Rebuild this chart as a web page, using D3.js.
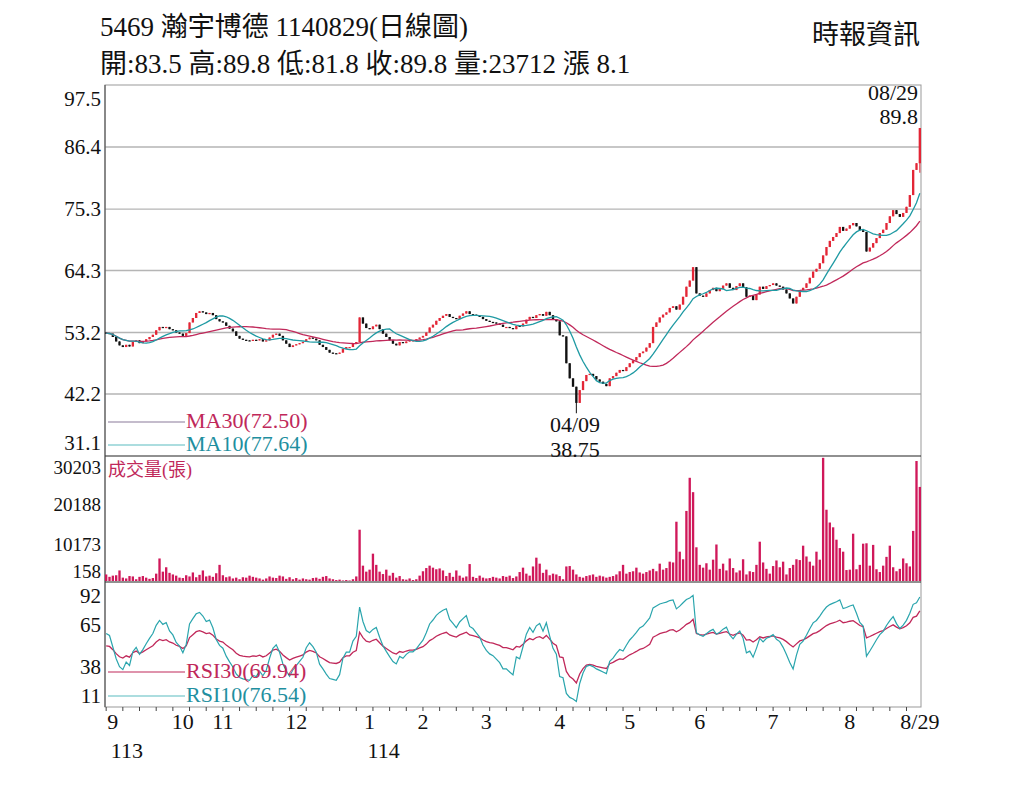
<!DOCTYPE html><html><head><meta charset="utf-8"><script src="https://cdn.jsdelivr.net/npm/d3@7"></script>
<style>body{margin:0;background:#fff}text{font-family:"Liberation Serif","Noto Sans CJK TC",serif}</style></head><body><svg id="c" width="1024" height="788"></svg>
<script>
const closes=[53.1,53.0,52.4,51.6,50.9,50.6,51.0,50.7,51.5,51.8,
51.3,51.6,52.0,52.4,52.8,53.6,54.2,54.0,54.2,53.8,
53.6,53.2,53.0,52.6,53.1,55.0,55.8,56.7,57.0,56.8,
56.5,56.7,56.3,55.6,55.2,55.0,54.4,53.9,53.4,52.6,
52.1,51.9,51.8,51.7,51.9,51.8,52.0,51.6,51.8,52.3,
52.8,53.0,52.6,51.8,51.2,50.6,50.9,51.1,51.3,51.5,
52.0,52.3,52.1,51.8,51.0,50.6,50.1,49.6,49.5,49.4,
49.6,50.3,50.6,50.6,51.2,51.5,55.9,54.8,54.0,53.8,
54.3,54.6,53.8,53.0,52.4,51.8,51.2,50.9,51.5,51.3,
51.6,51.8,51.8,52.0,52.3,52.6,53.2,54.1,54.6,55.3,
55.8,56.2,56.5,56.0,55.8,55.6,56.2,56.6,57.0,56.5,
56.4,56.2,56.0,55.6,55.3,55.1,55.0,54.8,54.6,54.2,
54.2,54.0,53.8,54.4,54.3,54.8,55.5,56.0,55.8,56.3,
56.5,56.2,56.9,56.3,55.6,55.2,52.7,52.5,47.7,45.0,
43.5,40.6,42.9,44.5,45.6,45.8,45.4,44.8,44.4,44.0,
43.6,45.0,45.4,46.0,46.5,46.3,47.0,47.7,48.2,48.8,
49.5,49.8,50.5,51.3,54.2,55.0,55.9,56.4,56.8,57.6,
57.9,57.3,58.2,59.6,61.4,62.5,64.9,60.2,59.8,59.6,
60.2,60.8,61.2,60.6,61.0,61.6,62.0,61.2,60.8,61.5,
62.0,61.3,59.6,59.8,59.0,60.0,61.4,61.0,61.5,61.7,
62.0,61.6,61.4,60.9,60.2,59.3,58.4,59.6,60.8,61.2,
62.0,63.0,64.1,64.6,65.6,67.0,68.5,69.6,70.3,71.0,
72.1,71.4,71.8,72.4,72.8,72.2,71.5,71.2,67.7,68.4,
69.2,70.1,71.0,71.6,72.8,74.0,75.1,74.4,73.9,74.6,
75.7,77.8,82.3,83.5,89.8];
const volumesK=[1.8,1.2,1.5,1.6,2.8,1.0,0.8,1.4,1.3,0.6,
1.2,1.4,1.0,0.7,0.9,2.0,5.8,2.5,3.6,2.2,
1.8,1.5,1.0,0.9,1.6,1.3,2.3,1.1,1.7,2.8,
1.3,1.5,1.2,2.1,4.2,1.6,1.1,1.3,0.8,1.0,
0.6,1.1,1.0,1.5,1.2,1.0,0.8,0.5,0.8,1.3,
1.0,0.9,1.5,1.3,0.7,1.1,0.6,0.9,0.5,0.8,
0.6,0.5,0.9,1.0,0.7,1.2,1.4,0.8,0.6,0.4,
0.5,0.3,0.4,0.3,0.6,1.3,13.0,4.0,2.5,3.0,
7.0,4.2,2.5,1.9,3.0,1.5,2.2,1.0,1.4,0.6,
0.5,0.8,0.4,0.6,1.5,2.6,3.4,4.0,3.5,3.1,
3.3,2.8,1.4,2.2,1.2,2.8,1.5,1.0,1.3,4.4,
1.2,0.9,1.5,1.0,0.8,0.9,1.2,1.0,0.8,1.4,
1.2,1.5,0.9,1.3,2.4,3.5,2.0,1.5,3.8,6.0,
4.5,2.2,3.0,1.6,2.0,1.8,1.4,0.6,3.8,3.9,
3.0,1.8,1.2,1.0,1.4,1.6,1.8,1.2,1.5,1.3,
1.0,1.2,1.4,1.8,2.6,4.2,2.0,2.4,2.6,3.5,
2.3,2.0,2.4,2.8,3.2,2.6,4.5,3.0,3.4,5.0,
4.8,15.0,7.5,5.6,17.7,26.0,22.4,8.6,4.2,3.5,
4.6,3.0,5.5,9.3,3.2,4.5,2.8,5.8,3.4,2.3,
2.8,5.6,1.8,2.6,2.4,4.2,10.0,4.8,3.2,2.0,
3.9,5.3,3.6,5.0,1.8,3.4,4.2,5.6,5.4,9.0,
6.3,5.0,4.0,7.5,5.5,31.0,18.0,14.8,13.6,10.5,
8.4,7.5,2.9,3.0,12.0,3.1,4.2,9.5,9.6,4.0,
9.2,3.1,2.4,4.0,6.2,9.0,3.6,2.6,3.2,5.8,
4.6,3.8,12.7,30.2,23.712];
const firstOpen=53.2;
const rsiStart10=62, rsiStart30=52;
const priceTicks=[97.5,86.4,75.3,64.3,53.2,42.2,31.1];
const volTicks=[30203,20188,10173,158];
const rsiTicks=[92,65,38,11];
const monthLabels=["9","10","11","12","1","2","3","4","5","6","7","8","8/29"];
const monthIdx=[2,23,35,57,79,95,114,136,157,178,200,223,244];
const yearLabels=["113","114"];
const yearIdx=[2,79];

const svg=d3.select("#c");
const L=105,R=921,N=closes.length;
const x=d3.scaleBand().domain(d3.range(N)).range([L,R]).paddingInner(0.3);
const xc=i=>x(i)+x.bandwidth()/2;
const yP=d3.scaleLinear().domain([31.1,97.5]).range([456,85]);
const yV=d3.scaleLinear().domain([158,31455]).range([581,456]);
const yR=d3.scaleLinear().domain([11,92]).range([697,596]);

const opens=closes.map((c,i)=>i?closes[i-1]:firstOpen);
const ma=n=>closes.map((c,i)=>d3.mean(closes.slice(Math.max(0,i-n+1),i+1)));
function rsi(n,start){const out=[];let ag=0.4*start/100,al=0.4*(1-start/100);
 for(let i=0;i<N;i++){const d=i?closes[i]-closes[i-1]:0;const g=Math.max(d,0),l=Math.max(-d,0);
  if(i){ag=(ag*(n-1)+g)/n;al=(al*(n-1)+l)/n;}out.push(100-100/(1+ag/al));}return out;}

svg.append("g").selectAll("line").data(priceTicks.slice(1,-1)).join("line").attr("x1",L).attr("x2",R).attr("y1",d=>yP(d)).attr("y2",d=>yP(d)).attr("stroke","#b5b5b5").attr("stroke-width",1.3);
svg.append("rect").attr("x",L).attr("y",85).attr("width",R-L).attr("height",622).attr("fill","none").attr("stroke","#999");
[456,582].forEach(y=>svg.append("line").attr("x1",L).attr("x2",R).attr("y1",y).attr("y2",y).attr("stroke","#222").attr("stroke-width",1.2));
svg.append("line").attr("x1",L).attr("x2",L).attr("y1",85).attr("y2",707).attr("stroke","#444");

const cg=svg.append("g");
closes.forEach((c,i)=>{const o=opens[i];const up=c>=o;const col=up?"#e32636":"#111";
 const hi=i===N-1?89.8:Math.max(o,c),lo=i===N-1?81.8:(i===141?38.75:Math.min(o,c));
 cg.append("line").attr("x1",xc(i)).attr("x2",xc(i)).attr("y1",yP(hi)).attr("y2",yP(lo)).attr("stroke",col);
 const y1=yP(Math.max(o,c)),y2=yP(Math.min(o,c));
 cg.append("rect").attr("x",x(i)).attr("width",x.bandwidth()).attr("y",y1).attr("height",Math.max(1.2,y2-y1)).attr("fill",col);});
const line=(ys,sc)=>d3.line().x((d,i)=>xc(i)).y(d=>sc(d))(ys);
svg.append("path").attr("d",line(ma(30),yP)).attr("fill","none").attr("stroke","#c0285a").attr("stroke-width",1.3);
svg.append("path").attr("d",line(ma(10),yP)).attr("fill","none").attr("stroke","#1f9aa3").attr("stroke-width",1.3);

svg.append("g").selectAll("rect").data(volumesK).join("rect").attr("x",(d,i)=>x(i)).attr("width",x.bandwidth()).attr("y",d=>yV(Math.max(158,d*1000))).attr("height",d=>581-yV(Math.max(158,d*1000))).attr("fill","#d0185a");

svg.append("path").attr("d",line(rsi(30,rsiStart30),yR)).attr("fill","none").attr("stroke","#c0285a").attr("stroke-width",1.3);
svg.append("path").attr("d",line(rsi(10,rsiStart10),yR)).attr("fill","none").attr("stroke","#2aa5ad").attr("stroke-width",1.2);

const T=(t,x0,y0,o)=>svg.append("text").text(t).attr("x",x0).attr("y",y0).attr("font-size",(o&&o.fs)||21).attr("fill",(o&&o.fill)||"#111").attr("text-anchor",(o&&o.a)||"start");
priceTicks.forEach((v,k)=>{let y=yP(v)+7;if(k===0)y=106;if(k===priceTicks.length-1)y=450;T(v.toFixed(1),101,y,{a:"end"});});
volTicks.forEach((v,k)=>T(String(v),101,[474,511,551,578][k],{a:"end",fs:19}));
rsiTicks.forEach((v,k)=>T(String(v),101,[603,632,674,703][k],{a:"end"}));
monthLabels.forEach((m,k)=>T(m,xc(monthIdx[k]),729,{a:"middle",fs:22}));
yearLabels.forEach((m,k)=>T(m,xc(yearIdx[k])+14,758,{a:"middle",fs:22}));
svg.append("g").selectAll("line").data(d3.range(0,N,5)).join("line").attr("x1",d=>xc(d)).attr("x2",d=>xc(d)).attr("y1",707).attr("y2",711).attr("stroke","#444");

const leg=(y,t,col,lc)=>{svg.append("line").attr("x1",108).attr("x2",185).attr("y1",y-6).attr("y2",y-6).attr("stroke",lc).attr("stroke-width",1.2);T(t,186,y,{fill:col,fs:22});};
leg(428,"MA30(72.50)","#c0285a","#8a7a9a");leg(451,"MA10(77.64)","#1f8fa0","#5bbcc0");
leg(678,"RSI30(69.94)","#c0285a","#c0285a");leg(702,"RSI10(76.54)","#1f8fa0","#5bbcc0");
T("成交量(張)",108,476,{fill:"#c0285a",fs:18});
T("08/29",918,100,{a:"end",fs:22});T("89.8",918,124,{a:"end",fs:22});
T("04/09",575,432,{a:"middle",fs:22});T("38.75",575,457,{a:"middle",fs:22});
T("5469  瀚宇博德 1140829(日線圖)",100,36,{fs:27});
T("開:83.5 高:89.8 低:81.8 收:89.8 量:23712 漲 8.1",100,73,{fs:27});
T("時報資訊",920,44,{a:"end",fs:27});
</script></body></html>
